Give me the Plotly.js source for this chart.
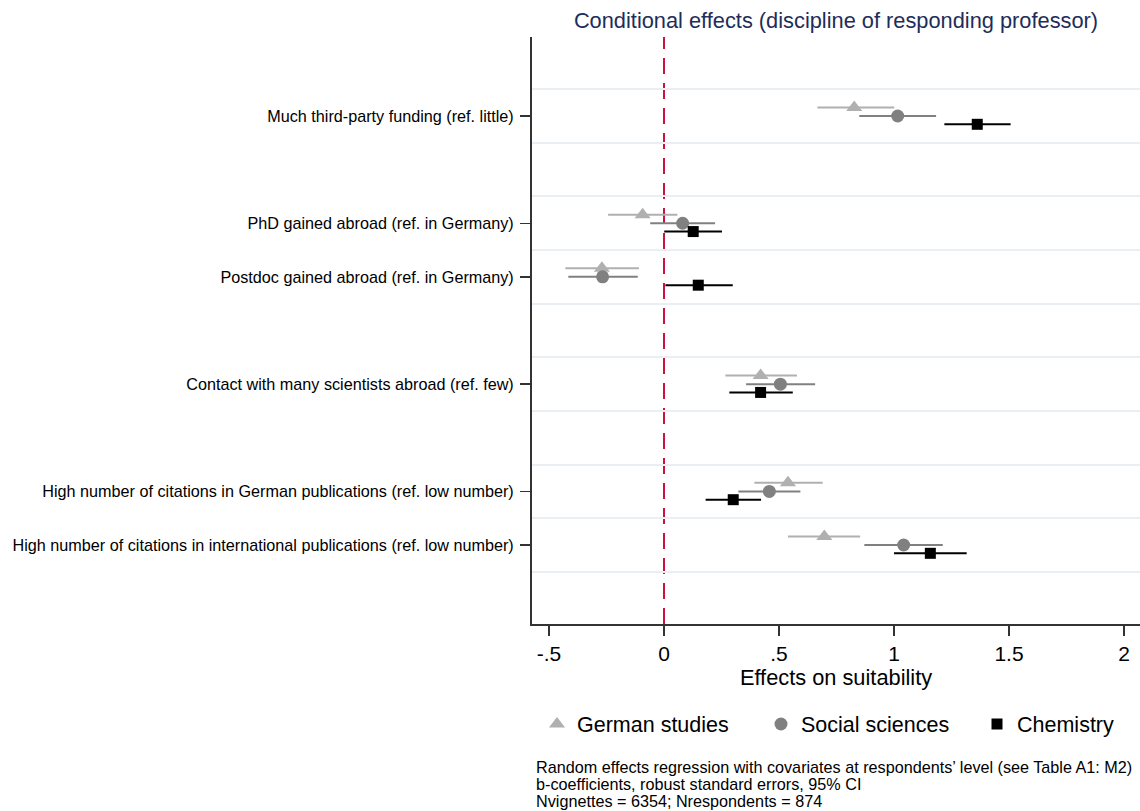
<!DOCTYPE html>
<html>
<head>
<meta charset="utf-8">
<script src="https://cdn.plot.ly/plotly-3.0.1.min.js"></script>
<style>html,body{margin:0;padding:0;background:#fff;}#chart{width:1140px;height:811px;}</style>
</head>
<body>
<div id="chart"></div>
<script>
// Coefficient groups (blank row between groups, as in the original)
var groups = [
  ["Much third-party funding (ref. little)"],
  ["PhD gained abroad (ref. in Germany)", "Postdoc gained abroad (ref. in Germany)"],
  ["Contact with many scientists abroad (ref. few)"],
  ["High number of citations in German publications (ref. low number)",
   "High number of citations in international publications (ref. low number)"]
];

var seriesNames = ["German studies", "Social sciences", "Chemistry"];

var germanEst = [0.827, -0.093, -0.270, 0.420, 0.539, 0.697];
var germanLo  = [0.667, -0.243, -0.429, 0.267, 0.393, 0.539];
var germanHi  = [1.001,  0.058, -0.109, 0.578, 0.690, 0.853];

var socialEst = [1.016,  0.081, -0.267, 0.506, 0.458, 1.042];
var socialLo  = [0.849, -0.060, -0.416, 0.357, 0.323, 0.871];
var socialHi  = [1.183,  0.222, -0.114, 0.657, 0.593, 1.212];

var chemEst = [1.362, 0.127, 0.149, 0.420, 0.301, 1.158];
var chemLo  = [1.219, 0.001, 0.006, 0.284, 0.181, 1.000];
var chemHi  = [1.507, 0.252, 0.299, 0.560, 0.422, 1.316];

var xTickVals = [-0.5, 0, 0.5, 1, 1.5, 2];
var xTickText = ["-.5", "0", ".5", "1", "1.5", "2"];

var footnotes = [
  "Random effects regression with covariates at respondents\u2019 level (see Table A1: M2)",
  "b-coefficients, robust standard errors, 95% CI",
  "Nvignettes = 6354; Nrespondents = 874"
];

// build row positions from grouping
var labels = [], rows = [];
var r = 0;
groups.forEach(function(g, gi){
  g.forEach(function(lab){ labels.push(lab); rows.push(r); r++; });
  if (gi < groups.length - 1) r++;
});
var gridVals = [];
for (var k = 0; k <= rows[rows.length-1] + 1; k++) gridVals.push(k - 0.5);

var FONT = "Liberation Sans, Arial, Helvetica, sans-serif";
var styles = [
  {color: "#b0b0b0", symbol: "triangle-up", size: 14, dodge: -0.16, legendPx: 537},
  {color: "#808080", symbol: "circle", size: 13, dodge: 0, legendPx: 761},
  {color: "#000000", symbol: "square", size: 11, dodge: 0.155, legendPx: 977}
];
var est = [germanEst, socialEst, chemEst];
var lo = [germanLo, socialLo, chemLo];
var hi = [germanHi, socialHi, chemHi];
var legendIds = ["legend", "legend2", "legend3"];

var traces = seriesNames.map(function(name, i){
  var s = styles[i];
  return {
    type: "scatter", mode: "markers", name: name, legend: legendIds[i],
    x: est[i],
    y: rows.map(function(v){ return v + s.dodge; }),
    marker: {symbol: s.symbol, size: s.size, color: s.color, line: {width: 0}},
    error_x: {
      type: "data", symmetric: false,
      array: est[i].map(function(v, j){ return hi[i][j] - v; }),
      arrayminus: est[i].map(function(v, j){ return v - lo[i][j]; }),
      color: s.color, thickness: 2, width: 0
    },
    hoverinfo: "x+name"
  };
});

var plotLeft = 532, plotRight = 1140, plotW = plotRight - plotLeft;
var plotTop = 37, plotBottom = 624, plotH = plotBottom - plotTop;
function py(pix){ return (plotBottom - pix) / plotH; }
function px(pix){ return (pix - plotLeft) / plotW; }

var annotations = footnotes.map(function(t, i){
  return {
    text: t, xref: "paper", yref: "paper", x: px(534), y: py(767 + i*17),
    xanchor: "left", yanchor: "middle", showarrow: false, align: "left",
    font: {family: FONT, size: 16.2, color: "#000"}
  };
});

var layout = {
  width: 1140, height: 811,
  margin: {l: plotLeft, r: 1140 - plotRight, t: plotTop, b: 811 - plotBottom, pad: 0},
  paper_bgcolor: "#fff", plot_bgcolor: "#fff",
  font: {family: FONT, color: "#000"},
  title: {
    text: "Conditional effects (discipline of responding professor)",
    font: {family: FONT, size: 21.8, color: "#1e2d5a"},
    xref: "paper", x: 0.5, xanchor: "center",
    yref: "container", y: 1 - 20/811, yanchor: "middle"
  },
  xaxis: {
    range: [(532-664)/230, (1140-664)/230],
    tickvals: xTickVals, ticktext: xTickText,
    ticks: "outside", ticklen: 10, tickwidth: 1.5, tickcolor: "#333",
    showline: true, linecolor: "#333", linewidth: 1.5,
    showgrid: false, zeroline: false,
    tickfont: {family: FONT, size: 21, color: "#000"},
    title: {text: "Effects on suitability", font: {family: FONT, size: 21.8, color: "#000"}, standoff: 0},
    automargin: false
  },
  yaxis: {
    range: [9.473, -1.473],
    tickvals: rows, ticktext: labels,
    ticks: "outside", ticklen: 10, tickwidth: 1.5, tickcolor: "#333",
    showline: true, linecolor: "#333", linewidth: 2,
    showgrid: false, zeroline: false,
    tickfont: {family: FONT, size: 16.2, color: "#000"},
    ticklabelstandoff: 3,
    minor: {tickvals: gridVals, showgrid: true, gridcolor: "#e9eff3", gridwidth: 2, ticks: ""},
    automargin: false
  },
  showlegend: true,
  shapes: [{
    type: "line", xref: "x", yref: "paper", x0: 0, x1: 0, y0: 0, y1: 1,
    line: {color: "#cc1040", width: 2, dash: "16px,9px"}, layer: "between"
  }],
  annotations: annotations
};

legendIds.forEach(function(id, i){
  layout[id] = {
    orientation: "h", xref: "paper", yref: "paper",
    x: px(styles[i].legendPx), xanchor: "left", y: py(724), yanchor: "middle",
    font: {family: FONT, size: 21.5, color: "#000"},
    bgcolor: "rgba(0,0,0,0)", borderwidth: 0
  };
});

Plotly.newPlot("chart", traces, layout, {displayModeBar: false, staticPlot: true});
</script>
</body>
</html>
